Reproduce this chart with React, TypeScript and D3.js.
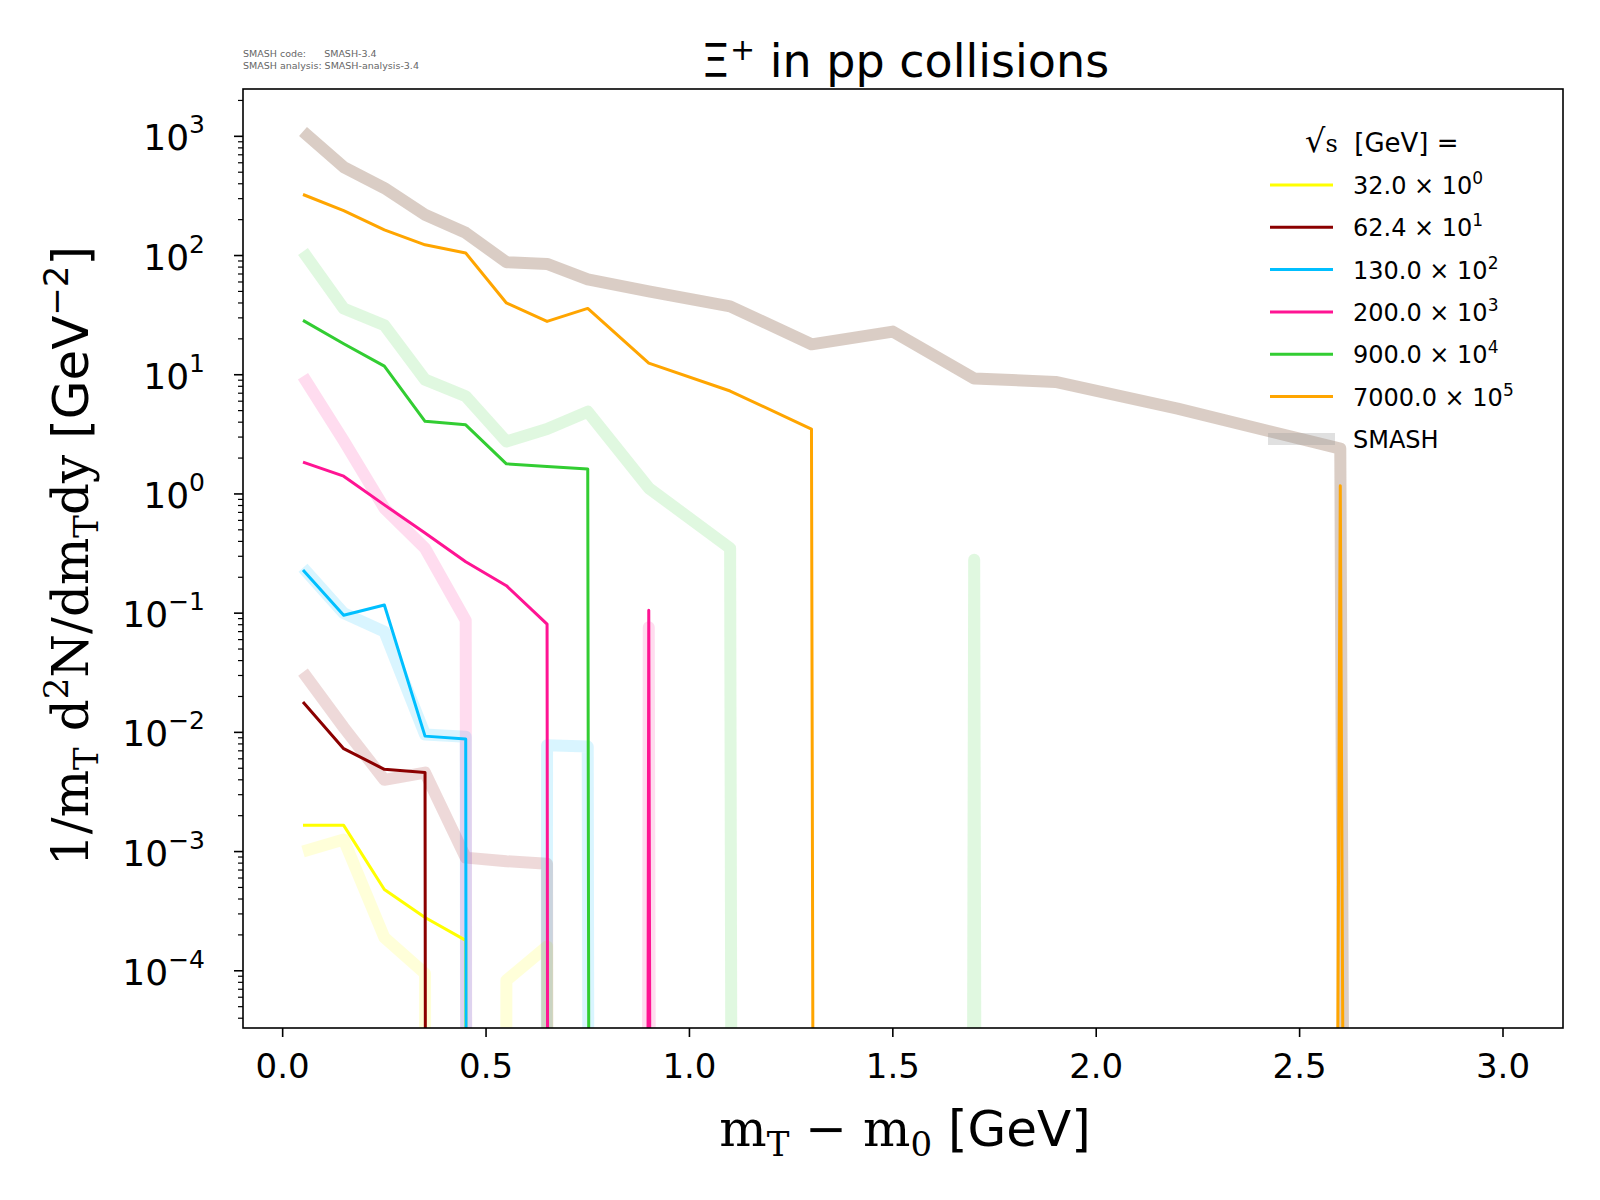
import * as d3 from "d3";

const xBins = [0.05, 0.15, 0.25, 0.35, 0.45, 0.55, 0.65, 0.75, 0.9, 1.1, 1.3, 1.5, 1.7, 1.9, 2.2, 2.6, 3.0];

// experimental data (0 = no entry, clipped under the axis)
const yellowData = [0.00166, 0.00166, 0.00048, 0.00028, 0.00018, 0, 0, 0, 0, 0, 0, 0, 0, 0, 0, 0, 0];
const maroonData = [0.018, 0.0073, 0.0049, 0.0046, 0, 0, 0, 0, 0, 0, 0, 0, 0, 0, 0, 0, 0];
const blueData = [0.23, 0.096, 0.117, 0.0093, 0.0088, 0, 0, 0, 0, 0, 0, 0, 0, 0, 0, 0, 0];
const pinkData = [1.85, 1.41, 0.81, 0.47, 0.27, 0.17, 0.081, 0, 0.106, 0, 0, 0, 0, 0, 0, 0, 0];
const greenData = [28.6, 18.2, 11.8, 4.07, 3.8, 1.79, 1.7, 1.62, 0, 0, 0, 0, 0, 0, 0, 0, 0];
const orangeData = [325, 238, 164, 123, 105, 40, 28, 36, 12.5, 7.3, 3.5, 0, 0, 0, 0, 1.17, 0];

// SMASH model
const yellowSmash = [0.001, 0.00126, 0.00019, 0.000095, 0, 0.000083, 0.00016, 0, 0, 0, 0, 0, 0, 0, 0, 0, 0];
const maroonSmash = [0.032, 0.011, 0.004, 0.0046, 0.00089, 0.00083, 0.00079, 0, 0, 0, 0, 0, 0, 0, 0, 0, 0];
const blueSmash = [0.24, 0.1, 0.07, 0.0096, 0.0092, 0, 0.0078, 0.0076, 0, 0, 0, 0, 0, 0, 0, 0, 0];
const pinkSmash = [9.7, 2.8, 0.76, 0.35, 0.087, 0, 0, 0, 0.076, 0, 0, 0, 0, 0, 0, 0, 0];
const greenSmash = [108, 36, 26, 9.1, 6.6, 2.76, 3.5, 4.9, 1.12, 0.35, 0, 0, 0.28, 0, 0, 0, 0];
const orangeSmash = [1100, 552, 368, 220, 155, 88, 85, 63, 50, 37.5, 18, 23, 9.3, 8.7, 5.2, 2.4, 0];

const legendLabels = ["32.0", "62.4", "130.0", "200.0", "900.0", "7000.0"];
const legendExps = ["0", "1", "2", "3", "4", "5"];
const xTicks = [0, 0.5, 1, 1.5, 2, 2.5, 3];
const yTickExps = [-4, -3, -2, -1, 0, 1, 2, 3];

const series = [
  { data: yellowData, smash: yellowSmash, color: "#ffff00", smashColor: "#ffff00", smashAlpha: 0.15 },
  { data: maroonData, smash: maroonSmash, color: "#8b0000", smashColor: "#8b0000", smashAlpha: 0.15 },
  { data: blueData, smash: blueSmash, color: "#00bfff", smashColor: "#00bfff", smashAlpha: 0.15 },
  { data: pinkData, smash: pinkSmash, color: "#ff1493", smashColor: "#ff1493", smashAlpha: 0.15 },
  { data: greenData, smash: greenSmash, color: "#32cd32", smashColor: "#32cd32", smashAlpha: 0.15 },
  { data: orangeData, smash: orangeSmash, color: "#ffa500", smashColor: "#845a3e", smashAlpha: 0.3 },
];

const W = 1600, H = 1200;
const M = { left: 243, right: 1563, top: 89, bottom: 1028 };

export default function App() {
  const x = d3.scaleLinear().domain([-0.0975, 3.1475]).range([M.left, M.right]);
  const y = d3.scaleLog().domain([Math.pow(10, -4.48), Math.pow(10, 3.397)]).range([M.bottom, M.top]);
  const line = (vals: number[]) =>
    d3.line<number>()
      .x((_d, i) => x(xBins[i]))
      .y((d) => y(d > 0 ? d : 1e-300))(vals) as string;

  const minor: number[] = [];
  for (let e = -5; e <= 3; e++) for (let k = 2; k <= 9; k++) {
    const v = k * Math.pow(10, e);
    if (v > y.domain()[0] && v < y.domain()[1]) minor.push(v);
  }
  const sans = "DejaVu Sans, sans-serif";
  const serif = "DejaVu Serif, serif";

  return (
    <svg width={W} height={H} style={{ display: "block", margin: -8 }} fontFamily={sans}>
      <rect width={W} height={H} fill="#fff" />
      <defs>
        <clipPath id="plot">
          <rect x={M.left} y={M.top} width={M.right - M.left} height={M.bottom - M.top} />
        </clipPath>
      </defs>
      <text x={243} y={57} fontSize={9.5} fill="#666" style={{ whiteSpace: "pre" }}>SMASH code:      SMASH-3.4</text>
      <text x={243} y={69} fontSize={9.5} fill="#666">SMASH analysis: SMASH-analysis-3.4</text>
      <text x={905} y={77} fontSize={46} textAnchor="middle">Ξ<tspan baselineShift="super" fontSize={30}>+</tspan> in pp collisions</text>

      <g clipPath="url(#plot)" fill="none" strokeLinejoin="round">
        {series.map((s, i) => (
          <path key={"s" + i} d={line(s.smash)} stroke={s.smashColor} strokeOpacity={s.smashAlpha} strokeWidth={12} />
        ))}
        {series.map((s, i) => (
          <path key={"d" + i} d={line(s.data)} stroke={s.color} strokeWidth={3} />
        ))}
      </g>

      <rect x={M.left} y={M.top} width={M.right - M.left} height={M.bottom - M.top} fill="none" stroke="#000" strokeWidth={1.6} />

      {xTicks.map((t) => (
        <g key={t}>
          <line x1={x(t)} x2={x(t)} y1={M.bottom} y2={M.bottom + 9} stroke="#000" strokeWidth={1.6} />
          <text x={x(t)} y={M.bottom + 50} fontSize={34} textAnchor="middle">{t.toFixed(1)}</text>
        </g>
      ))}
      {minor.map((v, i) => (
        <line key={i} x1={M.left} x2={M.left - 5} y1={y(v)} y2={y(v)} stroke="#000" strokeWidth={1.2} />
      ))}
      {yTickExps.map((e) => (
        <g key={e}>
          <line x1={M.left} x2={M.left - 9} y1={y(Math.pow(10, e))} y2={y(Math.pow(10, e))} stroke="#000" strokeWidth={1.6} />
          <text x={M.left - 38} y={y(Math.pow(10, e)) + 14} fontSize={36} textAnchor="end">
            10<tspan dy={-17} fontSize={25}>{e < 0 ? "−" + -e : String(e)}</tspan>
          </text>
        </g>
      ))}

      <text x={905} y={1146} fontSize={50} textAnchor="middle">
        <tspan fontFamily={serif}>m</tspan><tspan fontFamily={serif} fontSize={34} dy={10}>T</tspan>
        <tspan fontFamily={serif} dy={-10}> − m</tspan><tspan fontFamily={serif} fontSize={34} dy={10}>0</tspan>
        <tspan dy={-10}> [GeV]</tspan>
      </text>
      <text transform="translate(88,556) rotate(-90)" fontSize={50} textAnchor="middle">
        <tspan fontFamily={serif}>1/m</tspan><tspan fontFamily={serif} fontSize={34} dy={10}>T</tspan>
        <tspan fontFamily={serif} dy={-10}> d</tspan><tspan fontFamily={serif} fontSize={34} dy={-20}>2</tspan>
        <tspan fontFamily={serif} dy={20}>N/dm</tspan><tspan fontFamily={serif} fontSize={34} dy={10}>T</tspan>
        <tspan fontFamily={serif} dy={-10}>dy</tspan>
        <tspan> [GeV</tspan><tspan fontSize={34} dy={-20}>−2</tspan><tspan dy={20}>]</tspan>
      </text>

      <g fontSize={24}>
        <text x={1305} y={152} fontSize={26}>
          <tspan fontFamily={serif} fontSize={32}>√</tspan><tspan fontFamily={serif} fontSize={24}>s</tspan>
          <tspan style={{ whiteSpace: "pre" }}>  [GeV] =</tspan>
        </text>
        {series.map((s, i) => (
          <g key={i} transform={`translate(0,${185 + i * 42.3})`}>
            <line x1={1270} x2={1333} y1={0} y2={0} stroke={s.color} strokeWidth={3} />
            <text x={1353} y={9}>{legendLabels[i]} × 10<tspan dy={-10} fontSize={17}>{legendExps[i]}</tspan></text>
          </g>
        ))}
        <g transform="translate(0,439)">
          <line x1={1268} x2={1335} y1={0} y2={0} stroke="#999" strokeOpacity={0.3} strokeWidth={12} />
          <text x={1353} y={9}>SMASH</text>
        </g>
      </g>
    </svg>
  );
}
